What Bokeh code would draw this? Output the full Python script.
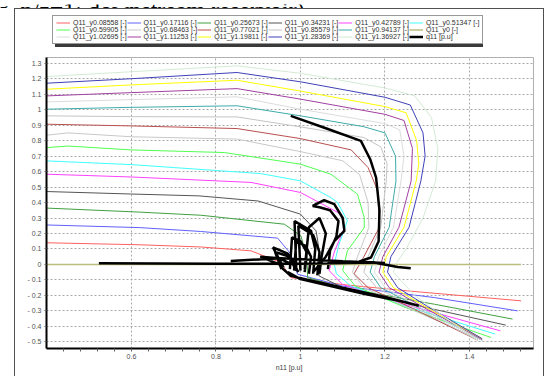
import math
from bokeh.plotting import figure
from bokeh.layouts import column, row
from bokeh.models import (FixedTicker, CustomJSTickFormatter, Legend, LegendItem, Spacer,
                          Range1d, BoxAnnotation, Label)
from bokeh.embed import file_html
from bokeh.resources import INLINE

NaN = float("nan")

# ---- data ----
red_x = [0.4, 0.62, 0.764, 0.883, 0.954, 0.977, 1.1, 1.254, 1.522]
red_y = [0.14, 0.127, 0.113, 0.088, 0.012, -0.085, -0.13, -0.171, -0.235]

blue_x = [0.4, 0.62, 0.764, 0.946, 0.977, 0.993, 1.1, 1.317, 1.514]
blue_y = [0.255, 0.238, 0.213, 0.17, 0.068, -0.063, -0.14, -0.214, -0.30]

green_x = [0.4, 0.62, 0.764, 0.962, 1.001, 1.015, 1.017, 1.1, 1.317, 1.502]
green_y = [0.364, 0.338, 0.318, 0.26, 0.185, 0.05, -0.085, -0.15, -0.257, -0.353]

dgray_x = [0.4, 0.6, 0.76, 0.9, 1.0, 1.037, 1.045, 1.044, 1.1, 1.3, 1.486]
dgray_y = [0.471, 0.455, 0.443, 0.41, 0.325, 0.217, 0.08, -0.074, -0.15, -0.28, -0.392]

magenta_x = [0.4, 0.6, 0.883, 1.0, 1.096, 1.104, 1.08, 1.068, 1.1, 1.25, 1.473]
magenta_y = [0.583, 0.565, 0.53, 0.465, 0.325, 0.238, 0.08, -0.04, -0.13, -0.26, -0.429]

cyan_x = [0.4, 0.6, 0.906, 1.0, 1.072, 1.088, 1.111, 1.09, 1.08, 1.085, 1.12, 1.25, 1.461]
cyan_y = [0.669, 0.645, 0.587, 0.54, 0.432, 0.4, 0.282, 0.12, 0.0, -0.06, -0.14, -0.27, -0.45]

lime_x = [0.4, 0.45, 0.6, 0.82, 1.0, 1.072, 1.135, 1.151, 1.151, 1.111, 1.1, 1.13, 1.25, 1.451]
lime_y = [0.755, 0.765, 0.74, 0.723, 0.648, 0.583, 0.454, 0.303, 0.238, 0.088, -0.04, -0.14, -0.28, -0.472]

lgray_x = [0.4, 0.45, 0.6, 0.85, 1.0, 1.1, 1.14, 1.16, 1.162, 1.135, 1.123, 1.15, 1.27, 1.43]
lgray_y = [0.835, 0.85, 0.825, 0.81, 0.729, 0.67, 0.58, 0.4, 0.24, 0.05, -0.05, -0.15, -0.3, -0.49]

brown_x = [0.4, 0.6, 0.85, 1.0, 1.12, 1.16, 1.183, 1.187, 1.15, 1.127, 1.16, 1.27, 1.42]
brown_y = [0.906, 0.895, 0.878, 0.813, 0.74, 0.626, 0.475, 0.24, 0.05, -0.06, -0.15, -0.29, -0.49]

gray_x = [0.4, 0.6, 0.85, 1.0, 1.15, 1.19, 1.205, 1.203, 1.19, 1.16, 1.15, 1.18, 1.28, 1.42]
gray_y = [0.96, 0.955, 0.953, 0.889, 0.82, 0.76, 0.65, 0.54, 0.24, 0.05, -0.05, -0.15, -0.29, -0.49]

teal_x = [0.4, 0.6, 0.85, 1.0, 1.15, 1.2, 1.225, 1.226, 1.21, 1.175, 1.165, 1.19, 1.29, 1.43]
teal_y = [1.003, 1.015, 1.025, 0.96, 0.89, 0.85, 0.7, 0.54, 0.24, 0.05, -0.05, -0.15, -0.29, -0.49]

olive_x = [0.4, 1.522]
olive_y = [0.0, 0.0]

vlgray_x = [0.4, 0.6, 0.85, 1.0, 1.2, 1.235, 1.245, 1.238, 1.22, 1.185, 1.175, 1.2, 1.29, 1.43]
vlgray_y = [1.05, 1.065, 1.083, 1.003, 0.91, 0.87, 0.7, 0.54, 0.24, 0.05, -0.05, -0.15, -0.29, -0.49]

purple_x = [0.4, 0.6, 0.85, 1.0, 1.2, 1.245, 1.265, 1.262, 1.233, 1.195, 1.186, 1.21, 1.3, 1.43]
purple_y = [1.089, 1.11, 1.136, 1.068, 0.97, 0.93, 0.75, 0.54, 0.24, 0.05, -0.05, -0.15, -0.29, -0.485]

yellow_x = [0.4, 0.6, 0.85, 1.0, 1.2, 1.25, 1.275, 1.28, 1.274, 1.245, 1.203, 1.195, 1.22, 1.3, 1.43]
yellow_y = [1.132, 1.16, 1.19, 1.12, 1.02, 0.98, 0.8, 0.65, 0.54, 0.24, 0.05, -0.05, -0.15, -0.28, -0.48]

dblue_x = [0.4, 0.6, 0.85, 1.0, 1.2, 1.26, 1.29, 1.295, 1.285, 1.257, 1.214, 1.206, 1.23, 1.3, 1.43]
dblue_y = [1.171, 1.2, 1.24, 1.18, 1.08, 1.03, 0.85, 0.7, 0.54, 0.24, 0.05, -0.05, -0.15, -0.27, -0.48]

vlgreen_x = [0.4, 0.6, 0.85, 1.0, 1.2, 1.27, 1.31, 1.325, 1.32, 1.29, 1.25, 1.225, 1.22, 1.27, 1.32, 1.42]
vlgreen_y = [1.214, 1.245, 1.283, 1.235, 1.14, 1.09, 0.95, 0.75, 0.54, 0.3, 0.1, 0.0, -0.05, -0.2, -0.3, -0.49]

q11_x = [0.977, 1.06, 1.143, 1.165, 1.179, 1.187, 1.185, 1.167, 1.14, NaN,
         0.523, 0.8, 1.0, 1.174, 1.23, 1.261, NaN,
         0.835, 0.954, 1.1, 1.2, NaN,
         0.955, 0.977, 1.1, 1.2, 1.28, NaN,
         0.97, 1.0, 1.15, 1.26, NaN,
         0.96, 0.935, 0.97, 0.99, NaN,
         0.955, 0.94, 0.975, 0.995, NaN,
         0.975, 0.98, 1.0, 1.015, 1.01, NaN,
         0.985, 0.99, 1.012, 1.025, 1.02, NaN,
         0.99, 0.986, 1.025, 1.035, 1.03, NaN,
         1.0, 0.995, 1.03, 1.045, 1.04, NaN,
         1.01, 1.02, 1.045, 1.06, 1.05, 1.045, NaN,
         1.03, 1.06, 1.08, 1.104, 1.1, 1.08, 1.056, 1.029, 1.045, 1.07, 1.09, 1.085, 1.07, 1.065, NaN,
         0.95, 0.905, 0.95, 0.98]
q11_y = [0.96, 0.88, 0.798, 0.68, 0.561, 0.35, 0.15, 0.045, 0.02, NaN,
         0.008, 0.005, 0.004, 0.012, -0.016, -0.024, NaN,
         0.023, 0.04, 0.02, 0.01, NaN,
         -0.02, -0.074, -0.15, -0.21, -0.267, NaN,
         -0.05, -0.095, -0.19, -0.25, NaN,
         -0.02, 0.11, 0.07, -0.04, NaN,
         -0.03, 0.08, 0.05, -0.05, NaN,
         -0.03, 0.175, 0.15, 0.08, -0.05, NaN,
         -0.04, 0.15, 0.12, 0.05, -0.06, NaN,
         -0.02, 0.28, 0.217, 0.1, -0.06, NaN,
         -0.04, 0.25, 0.19, 0.08, -0.07, NaN,
         -0.03, 0.24, 0.3, 0.2, 0.05, -0.06, NaN,
         -0.05, 0.05, 0.15, 0.217, 0.3, 0.39, 0.415, 0.378, 0.37, 0.35, 0.28, 0.18, 0.09, -0.03, NaN,
         0.0, 0.05, 0.04, 0.0]

series = [
    ("Q11_y0.08558 [-]", red_x, red_y, "#ff6060", 1),
    ("Q11_y0.17116 [-]", blue_x, blue_y, "#6060ff", 1),
    ("Q11_y0.25673 [-]", green_x, green_y, "#40a040", 1),
    ("Q11_y0.34231 [-]", dgray_x, dgray_y, "#555555", 1),
    ("Q11_y0.42789 [-]", magenta_x, magenta_y, "#ff40ff", 1),
    ("Q11_y0.51347 [-]", cyan_x, cyan_y, "#40ffff", 1),
    ("Q11_y0.59905 [-]", lime_x, lime_y, "#50ff50", 1),
    ("Q11_y0.68463 [-]", lgray_x, lgray_y, "#c8c8c8", 1),
    ("Q11_y0.77021 [-]", brown_x, brown_y, "#b85050", 1),
    ("Q11_y0.85579 [-]", gray_x, gray_y, "#c4c4c4", 1),
    ("Q11_y0.94137 [-]", teal_x, teal_y, "#40aaaa", 1),
    ("Q11_y0 [-]", olive_x, olive_y, "#bcbc7c", 1.5),
    ("Q11_y1.02695 [-]", vlgray_x, vlgray_y, "#dcdcdc", 1),
    ("Q11_y1.11253 [-]", purple_x, purple_y, "#a040a0", 1),
    ("Q11_y1.19811 [-]", yellow_x, yellow_y, "#ffff00", 1),
    ("Q11_y1.28369 [-]", dblue_x, dblue_y, "#4040b8", 1),
    ("Q11_y1.36927 [-]", vlgreen_x, vlgreen_y, "#d4ead4", 1),
    ("q11 [p.u]", q11_x, q11_y, "#000000", 2.5),
]

x_ticks = [0.6, 0.8, 1.0, 1.2, 1.4]
x_minor = [0.44, 0.48, 0.52, 0.56, 0.64, 0.68, 0.72, 0.76, 0.84, 0.88, 0.92, 0.96,
           1.04, 1.08, 1.12, 1.16, 1.24, 1.28, 1.32, 1.36, 1.44, 1.48, 1.52]
y_ticks = [-0.5, -0.4, -0.3, -0.2, -0.1, 0.0, 0.1, 0.2, 0.3, 0.4, 0.5, 0.6, 0.7,
           0.8, 0.9, 1.0, 1.1, 1.2, 1.3]

caption_tail = "g, n/z=1: downstream reservoir)."

FONT = "Liberation Sans"
W = 528
FRAME_W = W - 31 - 10
LEG_H = 47

# ---- strip with the cut-off caption line above the chart ----
cf = figure(width=549, height=8, output_backend="svg", toolbar_location=None,
            x_range=(0, 1), y_range=(0, 1), min_border=0)
cf.axis.visible = False
cf.grid.visible = False
cf.outline_line_color = None
cf.background_fill_color = "white"
cf.border_fill_color = "white"
cf.add_layout(Label(x=-4, y=3, x_units="screen", y_units="screen", text=caption_tail,
                    text_font="Liberation Serif", text_font_size="24px",
                    text_baseline="alphabetic", text_align="left", text_color="#000000"))

# ---- legend strip (its lines are drawn outside their own range; only the legend shows) ----
lf = figure(width=W, height=LEG_H, output_backend="svg", toolbar_location=None,
            x_range=(0, FRAME_W), y_range=(0, LEG_H), min_border=0)
lf.extra_x_ranges = {"off": Range1d(100, 101)}
lf.axis.visible = False
lf.grid.visible = False
lf.outline_line_color = None
lf.background_fill_color = "white"
lf.border_fill_color = "white"

leg_renderers = []
for name, xs, ys, color, lw in series:
    r = lf.line(xs, ys, line_color=color, line_width=lw, x_range_name="off")
    leg_renderers.append((name, r))

nrows, ncols = 3, 6
order = [rr * ncols + cc for cc in range(ncols) for rr in range(nrows)]
items = [LegendItem(label=leg_renderers[i][0], renderers=[leg_renderers[i][1]]) for i in order]

LX, LY, LW, LH = 6, 12, 428, 28
shadow = BoxAnnotation(left=LX + 2.5, right=LX + LW + 2.5, bottom=LY - 2.5, top=LY + LH - 2.5,
                       fill_color="#3a3a3a", fill_alpha=1, line_color=None)
lf.add_layout(shadow)

legend = Legend(items=items, ncols=ncols, location=(LX, LY))
legend.label_text_font = FONT
legend.label_text_font_size = "7px"
legend.label_text_color = "#303030"
legend.label_height = 7
legend.label_width = 53
legend.glyph_height = 7
legend.glyph_width = 14
legend.label_standoff = 3
legend.spacing = 0
legend.padding = 3
legend.margin = 0
legend.border_line_color = "#333333"
legend.border_line_width = 1
legend.background_fill_alpha = 1
lf.add_layout(legend, "center")

# ---- main plot ----
p = figure(width=W, height=320, output_backend="svg", toolbar_location=None,
           x_range=(0.399, 1.5515), y_range=(-0.543, 1.337),
           min_border_left=31, min_border_right=10, min_border_top=1,
           min_border_bottom=28)

fmt = CustomJSTickFormatter(code="""
const s = Math.abs(tick).toFixed(1).replace(/\\.0$/, "");
return (tick < -1e-9 ? "- " : "") + s;
""")

for name, xs, ys, color, lw in series:
    p.line(xs, ys, line_color=color, line_width=lw)

for ax in (p.xaxis[0], p.yaxis[0]):
    ax.axis_line_color = "#000000"
    ax.axis_line_width = 2
    ax.major_label_text_font = FONT
    ax.major_label_text_font_size = "7px"
    ax.major_label_text_color = "#505050"
    ax.major_tick_line_color = "#606060"
    ax.minor_tick_line_color = "#606060"
    ax.major_tick_in = 0
    ax.minor_tick_in = 0
    ax.formatter = fmt

p.xaxis[0].ticker = FixedTicker(ticks=x_ticks, minor_ticks=x_minor)
p.xaxis[0].major_tick_out = 3
p.xaxis[0].minor_tick_out = 3
p.xaxis[0].major_label_standoff = 2
p.xaxis[0].axis_label = "n11  [p.u]"
p.xaxis[0].axis_label_text_font = FONT
p.xaxis[0].axis_label_text_font_size = "7px"
p.xaxis[0].axis_label_text_font_style = "normal"
p.xaxis[0].axis_label_text_color = "#404040"
p.xaxis[0].axis_label_standoff = 2

p.yaxis[0].ticker = FixedTicker(ticks=y_ticks, minor_ticks=[])
p.yaxis[0].major_tick_out = 2
p.yaxis[0].major_label_standoff = 3

p.xgrid[0].ticker = FixedTicker(ticks=x_ticks)
p.ygrid[0].ticker = FixedTicker(ticks=y_ticks)
for g in (p.xgrid[0], p.ygrid[0]):
    g.grid_line_color = "#a8a8a8"
    g.grid_line_dash = "2 2"
    g.grid_line_width = 1

p.outline_line_color = "#b0b0b0"
p.outline_line_width = 1
p.background_fill_color = "white"
p.border_fill_color = "white"

framed = column(lf, p, spacing=0,
                styles={"border-left": "1px solid #505050",
                        "border-top": "1px solid #505050",
                        "border-right": "1px solid #505050"})
layout = column(cf,
                row(Spacer(width=14), framed, spacing=0),
                spacing=0)

open("out.html", "w").write(file_html(layout, INLINE))
